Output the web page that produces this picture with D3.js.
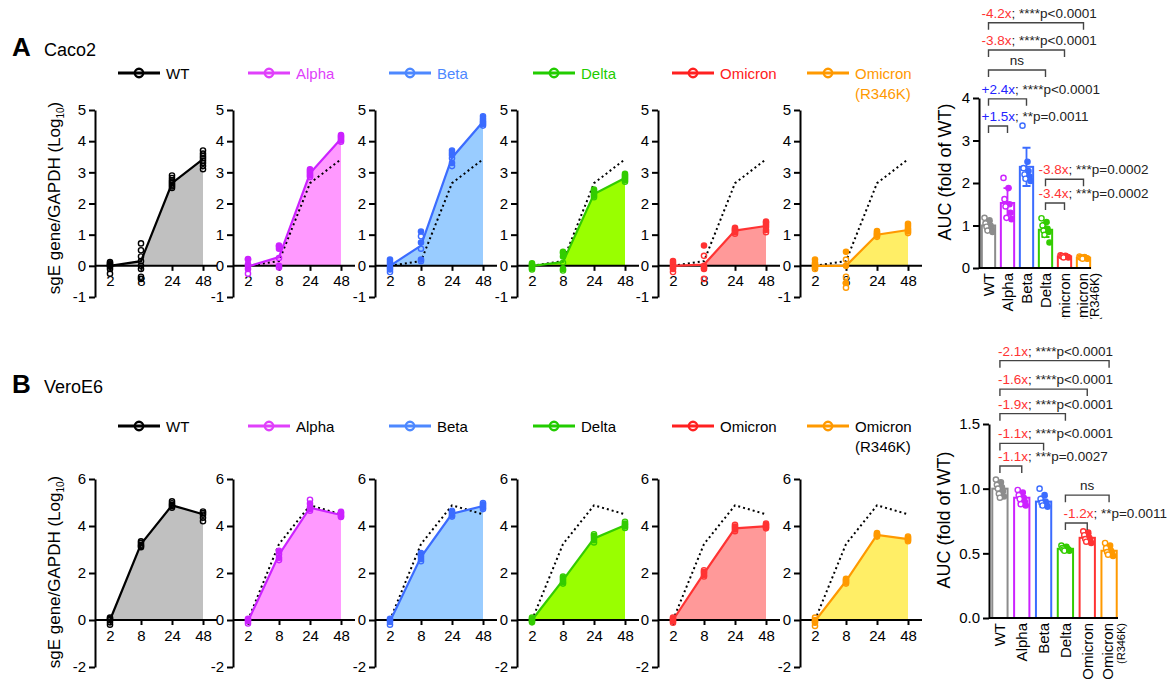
<!DOCTYPE html>
<html>
<head>
<meta charset="utf-8">
<script src="https://cdn.jsdelivr.net/npm/d3@7"></script>
<style>
body{margin:0;background:#fff}
svg{font-family:"Liberation Sans",Arial,sans-serif}
</style>
</head>
<body>
<svg id="fig" width="1169" height="694"></svg>
<script>
(function(){

// ---- data ----
var variants = ["WT","Alpha","Beta","Delta","Omicron","Omicron"]
var times = [2,8,24,48]

var lineColors   = ["#000000","#cc22ff","#3b6cff","#33cc00","#ff3333","#ff9900"]
var fillColors   = ["#c0c0c0","#ff99ff","#99ccff","#99ff00","#ff9999","#ffee66"]
var legendColors = ["#000000","#e040fb","#4d88ff","#22cc00","#ff2020","#ff9900"]
var aucColors    = ["#8c8c8c","#cc22ff","#3b6cff","#33cc00","#ff3333","#ff9900"]

// Caco2, mean sgE/GAPDH (log10) at 2, 8, 24, 48 h
var caco2Mean = [
	[0.00, 0.15, 2.65, 3.42],
	[-0.02, 0.28, 2.97, 4.08],
	[0.00, 0.65, 3.47, 4.62],
	[0.00, 0.12, 2.30, 2.82],
	[0.00, 0.04, 1.13, 1.28],
	[0.00, 0.00, 1.00, 1.15]]

var caco2Pts_WT    = [[-0.25,-0.1,-0.03,0.0,0.05,0.08,0.12,0.02],[-0.42,-0.35,-0.1,0.0,0.15,0.3,0.5,0.72],[2.5,2.55,2.6,2.65,2.7,2.75,2.82,2.9],[3.1,3.2,3.3,3.38,3.45,3.52,3.6,3.7]]
var caco2Pts_Alpha = [[-0.25,-0.1,0.0,0.05,0.2,0.22],[-0.05,0.0,0.25,0.55,0.62,0.65],[2.85,2.9,2.95,3.0,3.05,3.1],[3.98,4.02,4.07,4.12,4.16,4.2]]
var caco2Pts_Beta  = [[-0.2,-0.12,-0.05,0.05,0.12,0.2],[0.15,0.2,0.55,0.75,0.95,1.1],[3.2,3.3,3.45,3.55,3.62,3.7],[4.5,4.55,4.6,4.65,4.72,4.8]]
var caco2Pts_Delta = [[-0.12,-0.08,-0.03,0.0,0.04,0.08],[-0.15,-0.1,0.1,0.3,0.4,0.45],[2.2,2.25,2.3,2.35,2.4,2.45],[2.7,2.75,2.8,2.85,2.9,2.95]]
var caco2Pts_Omi   = [[-0.2,-0.1,-0.05,0.0,0.08,0.15],[-0.42,-0.1,-0.05,0.0,0.32,0.65],[1.03,1.08,1.12,1.15,1.18,1.22],[1.08,1.15,1.25,1.32,1.38,1.42]]
var caco2Pts_R346K = [[-0.1,-0.05,0.0,0.05,0.1,0.2],[-0.7,-0.55,-0.35,0.0,0.2,0.45],[0.93,0.97,1.0,1.03,1.07,1.12],[1.05,1.1,1.15,1.2,1.28,1.35]]

// VeroE6
var veroMean = [
	[0.00, 3.23, 4.88, 4.50],
	[-0.05, 2.78, 4.78, 4.47],
	[-0.05, 2.68, 4.52, 4.85],
	[0.00, 1.70, 3.47, 4.03],
	[0.00, 1.98, 3.90, 3.99],
	[-0.05, 1.66, 3.62, 3.44]]

var veroPts_WT    = [[-0.2,-0.1,0.0,0.05,0.1],[3.1,3.15,3.2,3.28,3.35],[4.78,4.85,4.9,4.97,5.05],[4.2,4.35,4.48,4.55,4.62]]
var veroPts_Alpha = [[-0.15,-0.05,0.0,0.05],[2.55,2.65,2.8,2.9,2.95],[4.65,4.72,4.8,4.95,5.12],[4.38,4.42,4.48,4.55,4.6]]
var veroPts_Beta  = [[-0.2,-0.08,0.0,0.05],[2.5,2.6,2.7,2.8,2.85],[4.4,4.45,4.52,4.6,4.65],[4.72,4.78,4.85,4.92,4.98]]
var veroPts_Delta = [[-0.1,-0.05,0.0,0.05,0.1],[1.55,1.62,1.7,1.78,1.85],[3.3,3.4,3.5,3.58,3.65],[3.92,3.98,4.05,4.1,4.18]]
var veroPts_Omi   = [[-0.12,-0.05,0.0,0.05,0.1],[1.85,1.92,2.0,2.05,2.12],[3.78,3.85,3.92,3.98,4.05],[3.9,3.95,4.0,4.05,4.1]]
var veroPts_R346K = [[-0.25,-0.12,-0.05,0.0,0.1],[1.55,1.6,1.65,1.7,1.75],[3.55,3.58,3.62,3.66,3.7],[3.35,3.4,3.45,3.5,3.55]]

// AUC (fold of WT)
var caco2Auc = [1.0, 1.53, 2.38, 0.90, 0.27, 0.24]
var caco2Sd  = [0.10, 0.35, 0.45, 0.17, 0.02, 0.02]
var caco2AucPts = [
	[1.18,1.12,1.05,1.0,0.97,0.93,0.88,0.85],
	[2.12,1.88,1.62,1.5,1.45,1.3,1.18,1.15],
	[3.35,2.5,2.35,2.28,2.2,2.15,2.1,2.05],
	[1.17,1.08,1.0,0.92,0.88,0.85,0.78,0.6],
	[0.3,0.29,0.28,0.27,0.27,0.26,0.25,0.25],
	[0.27,0.26,0.25,0.24,0.24,0.23,0.22,0.22]]

var veroAuc = [1.0, 0.93, 0.90, 0.535, 0.62, 0.52]
var veroSd  = [0.04, 0.04, 0.04, 0.015, 0.03, 0.03]
var veroAucPts = [
	[1.07,1.05,1.03,1.01,1.0,0.98,0.96,0.94,0.93],
	[0.99,0.97,0.95,0.93,0.92,0.9,0.88,0.87],
	[1.0,0.95,0.92,0.9,0.89,0.88,0.87,0.86],
	[0.56,0.55,0.54,0.535,0.53,0.53,0.52,0.52],
	[0.67,0.66,0.64,0.62,0.61,0.6,0.59,0.58],
	[0.58,0.56,0.54,0.52,0.51,0.5,0.49,0.48]]

// comparisons: from, to, bracket level (AUC units), fold, p
var caco2Stats = [
	{a:0, b:5, lvl:5.77, fold:"-4.2x", p:"****p<0.0001"},
	{a:0, b:4, lvl:5.13, fold:"-3.8x", p:"****p<0.0001"},
	{a:0, b:3, lvl:4.66, fold:"", p:"ns"},
	{a:0, b:2, lvl:3.98, fold:"+2.4x", p:"****p<0.0001"},
	{a:0, b:1, lvl:3.34, fold:"+1.5x", p:"**p=0.0011"},
	{a:3, b:5, lvl:2.09, fold:"-3.8x", p:"***p=0.0002"},
	{a:3, b:4, lvl:1.53, fold:"-3.4x", p:"***p=0.0002"}]

var veroStats = [
	{a:0, b:5, lvl:1.99, fold:"-2.1x", p:"****p<0.0001"},
	{a:0, b:4, lvl:1.77, fold:"-1.6x", p:"****p<0.0001"},
	{a:0, b:3, lvl:1.58, fold:"-1.9x", p:"****p<0.0001"},
	{a:0, b:2, lvl:1.35, fold:"-1.1x", p:"****p<0.0001"},
	{a:0, b:1, lvl:1.175, fold:"-1.1x", p:"***p=0.0027"},
	{a:3, b:5, lvl:0.95, fold:"", p:"ns"},
	{a:3, b:4, lvl:0.735, fold:"-1.2x", p:"**p=0.0011"}]

// ---- layout ----
var panelX  = [95, 233, 375, 517, 658, 800]
var legendX = [118, 248, 389, 533, 672, 807]

var svg = d3.select("#fig")
var plain = function(d){ return String(d) }

function styleAxis(g, size){
	g.attr("font-family", null).attr("font-size", size)
	g.select(".domain").attr("stroke-width", 2).attr("stroke", "#000")
	g.selectAll(".tick line").attr("stroke-width", 2).attr("stroke", "#000")
	g.selectAll(".tick text").attr("fill", "#000")
}

function drawCourse(cfg){
	var y = d3.scaleLinear().domain(cfg.ydom).range(cfg.yrange)

	// title and legend
	svg.append("text").text(cfg.letter).attr("x", 12).attr("y", cfg.titleY)
		.style("font-weight", "bold").style("font-size", "26px")
	svg.append("text").text(cfg.cell).attr("x", 44).attr("y", cfg.titleY)
		.style("font-size", "18px")

	variants.forEach(function(v, i){
		var lg = svg.append("g").attr("transform", "translate(" + legendX[i] + "," + cfg.legendY + ")")
		lg.append("line").attr("x1", 0).attr("x2", 42)
			.attr("stroke", i == 0 ? "#000" : legendColors[i]).attr("stroke-width", 3)
		lg.append("circle").attr("cx", 21).attr("r", 4.2).attr("fill", "none")
			.attr("stroke", i == 0 ? "#000" : legendColors[i]).attr("stroke-width", 2.4)
		var tc = cfg.colorLegend ? legendColors[i] : "#000"
		lg.append("text").text(v).attr("x", 48).attr("y", 5.5)
			.style("font-size", "15px").attr("fill", tc)
		if (i == 5) lg.append("text").text("(R346K)").attr("x", 48).attr("y", 25.5)
			.style("font-size", "15px").attr("fill", tc)
	})

	// y label
	var yl = svg.append("text")
		.attr("transform", "translate(" + cfg.labelPos[0] + "," + cfg.labelPos[1] + ") rotate(-90)")
		.style("text-anchor", "middle").style("font-size", "17px")
	yl.append("tspan").text("sgE gene/GAPDH (Log")
	yl.append("tspan").text("10").style("font-size", "10px").attr("dy", 4)
	yl.append("tspan").text(")").attr("dy", -4)

	var wt = cfg.means[0].map(function(m, j){ return {t: times[j], v: m} })

	variants.forEach(function(v, i){
		var ax = panelX[i]
		var x = d3.scalePoint().domain(times).range([ax + 15, ax + 108])
		var g = svg.append("g")
		var mean = cfg.means[i].map(function(m, j){ return {t: times[j], v: m} })

		g.append("path").datum(mean)
			.attr("d", d3.area().x(function(d){ return x(d.t) }).y0(y(0)).y1(function(d){ return y(d.v) }))
			.attr("fill", fillColors[i])

		// axes
		var ya = g.append("g").attr("transform", "translate(" + ax + ",0)")
			.call(d3.axisLeft(y).tickValues(cfg.ticks).tickFormat(plain).tickSize(6).tickSizeOuter(0))
		styleAxis(ya, 15)
		var xa = g.append("g").attr("transform", "translate(0," + y(0) + ")")
			.call(d3.axisBottom(x).tickSize(5).tickPadding(5))
		styleAxis(xa, 15)
		xa.select(".domain").remove()
		g.append("line").attr("x1", ax).attr("x2", ax + 122)
			.attr("y1", y(0)).attr("y2", y(0)).attr("stroke", "#000").attr("stroke-width", 2)

		var line = d3.line().x(function(d){ return x(d.t) }).y(function(d){ return y(d.v) })
		if (i > 0) {
			g.append("path").datum(wt).attr("d", line).attr("fill", "none")
				.attr("stroke", "#000").attr("stroke-width", 2).attr("stroke-dasharray", "2,3")
		}
		g.append("path").datum(mean).attr("d", line).attr("fill", "none")
			.attr("stroke", lineColors[i]).attr("stroke-width", 2.2)

		cfg.pts[i].forEach(function(arr, j){
			g.selectAll(null).data(arr).enter().append("circle")
				.attr("cx", x(times[j])).attr("cy", function(d){ return y(d) })
				.attr("r", 2.6)
				.attr("fill", function(d, k){ return (i > 0 && k % 2) ? lineColors[i] : "#fff" })
				.attr("fill-opacity", function(d, k){ return (i > 0 && k % 2) ? 1 : 0 })
				.attr("stroke", lineColors[i]).attr("stroke-width", 1.4)
		})
	})
}

function drawAuc(cfg){
	var y = d3.scaleLinear().domain(cfg.ydom).range(cfg.yrange)
	var x = d3.scaleBand().domain(d3.range(6)).range(cfg.xrange).paddingInner(0.3).paddingOuter(0.15)
	var g = svg.append("g")
	var cx = function(i){ return x(i) + x.bandwidth() / 2 }

	svg.append("text")
		.attr("transform", "translate(" + cfg.labelPos[0] + "," + cfg.labelPos[1] + ") rotate(-90)")
		.style("text-anchor", "middle").style("font-size", "18px")
		.text("AUC (fold of WT)")

	var bars = g.selectAll(".bar").data(cfg.means).enter().append("g")
	bars.append("rect")
		.attr("x", function(d, i){ return x(i) }).attr("width", x.bandwidth())
		.attr("y", function(d){ return y(d) }).attr("height", function(d){ return y(0) - y(d) })
		.attr("fill", "#fff").attr("stroke", function(d, i){ return aucColors[i] }).attr("stroke-width", 2)

	// error bars (SD) and replicates
	cfg.means.forEach(function(m, i){
		var lo = y(m - cfg.sds[i]), hi = y(m + cfg.sds[i]), c = cx(i)
		g.append("path").attr("d", "M" + c + "," + lo + "V" + hi + "M" + (c - 4) + "," + hi + "H" + (c + 4) + "M" + (c - 4) + "," + lo + "H" + (c + 4))
			.attr("stroke", aucColors[i]).attr("stroke-width", 1.8).attr("fill", "none")
		g.selectAll(null).data(cfg.pts[i]).enter().append("circle")
			.attr("cx", function(d, k){ return c + ((k * 5) % 9) - 4 })
			.attr("cy", function(d){ return y(d) })
			.attr("r", 2.6)
			.attr("fill", function(d, k){ return k % 2 ? aucColors[i] : "#fff" })
			.attr("stroke", aucColors[i]).attr("stroke-width", 1.4)
	})

	var ya = g.append("g").attr("transform", "translate(" + cfg.xrange[0] + ",0)")
		.call(d3.axisLeft(y).tickValues(cfg.ticks).tickFormat(d3.format(cfg.fmt)).tickSize(6).tickSizeOuter(0))
	styleAxis(ya, 15)
	g.append("line").attr("x1", cfg.xrange[0]).attr("x2", cfg.xrange[1] - 2)
		.attr("y1", y(0)).attr("y2", y(0)).attr("stroke", "#000").attr("stroke-width", 2)

	// category labels
	var lab = svg.append("g")
	if (cfg.clip) lab.attr("clip-path", "url(#" + cfg.clip + ")")
	variants.forEach(function(v, i){
		var c = cx(i)
		lab.append("text").text(v)
			.attr("transform", "translate(" + (c - (i == 5 ? 1 : 0)) + "," + (y(0) + 5) + ") rotate(-90)")
			.attr("dy", "0.35em").style("text-anchor", "end").style("font-size", "15px")
		if (i == 5) lab.append("text").text("(R346K)")
			.attr("transform", "translate(" + (c + cfg.subDx) + "," + (y(0) + 5) + ") rotate(-90)")
			.attr("dy", "0.35em").style("text-anchor", "end").style("font-size", cfg.subSize)
	})

	// comparisons
	cfg.stats.forEach(function(s){
		var yy = y(s.lvl), xa = cx(s.a), xb = cx(s.b)
		g.append("path").attr("d", "M" + xa + "," + (yy + 7) + "V" + yy + "H" + xb + "V" + (yy + 7))
			.attr("fill", "none").attr("stroke", "#444").attr("stroke-width", 1.4)
		var t = g.append("text").attr("y", yy - 5).style("font-size", "13.5px")
		if (s.fold == "") {
			t.attr("x", (xa + xb) / 2).style("text-anchor", "middle").attr("fill", "#222").text(s.p)
		} else {
			t.attr("x", xa + cfg.textDx)
			t.append("tspan").text(s.fold).attr("fill", s.fold[0] == "+" ? "#2424ff" : "#ff3333")
			t.append("tspan").text("; " + s.p).attr("fill", "#222")
		}
	})
}

svg.append("defs").append("clipPath").attr("id", "clipA")
	.append("rect").attr("x", 900).attr("y", 0).attr("width", 269).attr("height", 319)

drawCourse({letter: "A", cell: "Caco2", titleY: 56, legendY: 73, colorLegend: true,
	ydom: [-1, 5], yrange: [297, 110], ticks: [-1, 0, 1, 2, 3, 4, 5],
	labelPos: [60, 198], means: caco2Mean,
	pts: [caco2Pts_WT, caco2Pts_Alpha, caco2Pts_Beta, caco2Pts_Delta, caco2Pts_Omi, caco2Pts_R346K]})

drawCourse({letter: "B", cell: "VeroE6", titleY: 393, legendY: 426, colorLegend: false,
	ydom: [-2, 6], yrange: [667, 479], ticks: [-2, 0, 2, 4, 6],
	labelPos: [60, 572], means: veroMean,
	pts: [veroPts_WT, veroPts_Alpha, veroPts_Beta, veroPts_Delta, veroPts_Omi, veroPts_R346K]})

drawAuc({ydom: [0, 4], yrange: [268, 98], ticks: [0, 1, 2, 3, 4], fmt: "d",
	xrange: [979, 1093], labelPos: [951, 172], means: caco2Auc, sds: caco2Sd, pts: caco2AucPts,
	stats: caco2Stats, textDx: -7, clip: "clipA", subDx: 11, subSize: "13px"})

drawAuc({ydom: [0, 1.5], yrange: [618, 424], ticks: [0, 0.5, 1, 1.5], fmt: ".1f",
	xrange: [989, 1120], labelPos: [950, 520], means: veroAuc, sds: veroSd, pts: veroAucPts,
	stats: veroStats, textDx: -2, clip: null, subDx: 12, subSize: "11px"})

})()
</script>
</body>
</html>
